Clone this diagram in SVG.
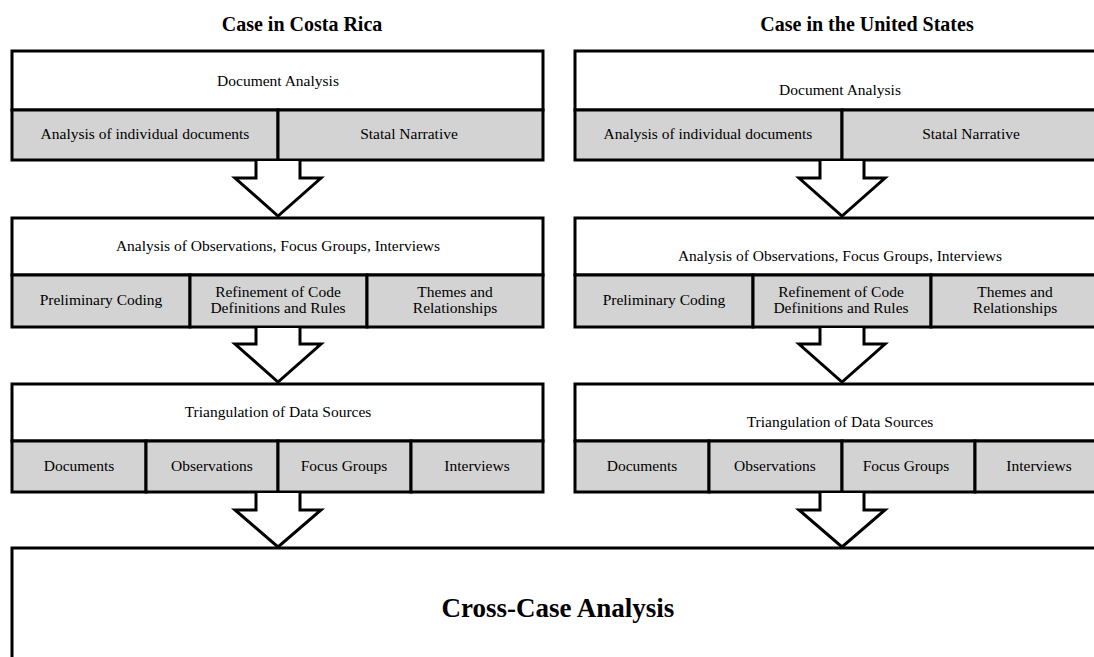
<svg xmlns="http://www.w3.org/2000/svg" width="1094" height="657" viewBox="0 0 1094 657">
<style>
.b{fill:#fff;stroke:#000;stroke-width:3}
.s{fill:#d3d3d3;stroke:#000;stroke-width:3}
.a{fill:#fff;stroke:#000;stroke-width:3;stroke-linejoin:miter}
text{font-family:"Liberation Serif","Times New Roman",serif;font-size:15.5px;fill:#000;text-anchor:middle}
.t{font-size:20px;font-weight:bold}
.c{font-size:27px;font-weight:bold}
</style>
<rect width="1094" height="657" fill="#fff"/>
<text class="t" x="302" y="31">Case in Costa Rica</text>
<text class="t" x="867" y="31">Case in the United States</text>

<g id="cr-doc">
<rect class="b" x="12" y="51" width="531" height="59"/>
<rect class="s" x="12" y="110" width="266" height="50"/>
<rect class="s" x="278" y="110" width="265" height="50"/>
<text x="278" y="86">Document Analysis</text>
<text x="145" y="139">Analysis of individual  documents</text>
<text x="409" y="139">Statal Narrative</text>
</g>
<g id="us-doc">
<rect class="b" x="575" y="51" width="530" height="59"/>
<rect class="s" x="575" y="110" width="267" height="50"/>
<rect class="s" x="842" y="110" width="263" height="50"/>
<text x="840" y="95">Document Analysis</text>
<text x="708" y="139">Analysis of individual  documents</text>
<text x="971" y="139">Statal Narrative</text>
</g>

<g id="cr-obs">
<rect class="b" x="12" y="218" width="531" height="57"/>
<rect class="s" x="12" y="275" width="178" height="52"/>
<rect class="s" x="190" y="275" width="177" height="52"/>
<rect class="s" x="367" y="275" width="176" height="52"/>
<text x="278" y="251">Analysis of Observations, Focus Groups, Interviews</text>
<text x="101" y="305">Preliminary Coding</text>
<text x="278" y="297">Refinement  of Code</text>
<text x="278" y="313">Definitions and Rules</text>
<text x="455" y="297">Themes and</text>
<text x="455" y="313">Relationships</text>
</g>
<g id="us-obs">
<rect class="b" x="575" y="218" width="530" height="57"/>
<rect class="s" x="575" y="275" width="178" height="52"/>
<rect class="s" x="753" y="275" width="178" height="52"/>
<rect class="s" x="931" y="275" width="174" height="52"/>
<text x="840" y="261">Analysis of Observations, Focus Groups, Interviews</text>
<text x="664" y="305">Preliminary Coding</text>
<text x="841" y="297">Refinement  of Code</text>
<text x="841" y="313">Definitions and Rules</text>
<text x="1015" y="297">Themes and</text>
<text x="1015" y="313">Relationships</text>
</g>

<g id="cr-tri">
<rect class="b" x="12" y="384" width="531" height="57"/>
<rect class="s" x="12" y="441" width="134" height="51"/>
<rect class="s" x="146" y="441" width="132" height="51"/>
<rect class="s" x="278" y="441" width="133" height="51"/>
<rect class="s" x="411" y="441" width="132" height="51"/>
<text x="278" y="417">Triangulation of Data Sources</text>
<text x="79" y="471">Documents</text>
<text x="212" y="471">Observations</text>
<text x="344" y="471">Focus Groups</text>
<text x="477" y="471">Interviews</text>
</g>
<g id="us-tri">
<rect class="b" x="575" y="384" width="530" height="57"/>
<rect class="s" x="575" y="441" width="134" height="51"/>
<rect class="s" x="709" y="441" width="133" height="51"/>
<rect class="s" x="842" y="441" width="133" height="51"/>
<rect class="s" x="975" y="441" width="130" height="51"/>
<text x="840" y="427">Triangulation of Data Sources</text>
<text x="642" y="471">Documents</text>
<text x="775" y="471">Observations</text>
<text x="906" y="471">Focus Groups</text>
<text x="1039" y="471">Interviews</text>
</g>

<g id="cross">
<rect class="b" x="12" y="548" width="1100" height="120"/>
<text class="c" x="558" y="617">Cross-Case Analysis</text>
</g>

<g id="connectors">
<path class="a" d="M256 161 V178 H235 L278 216 L321 178 H300 V161"/>
<path class="a" d="M820 161 V178 H799 L842 216 L885 178 H864 V161"/>
<path class="a" d="M256 328 V344 H235 L278 382 L321 344 H300 V328"/>
<path class="a" d="M820 328 V344 H799 L842 382 L885 344 H864 V328"/>
<path class="a" d="M256 493 V510 H235 L278 547 L321 510 H300 V493"/>
<path class="a" d="M820 493 V510 H799 L842 547 L885 510 H864 V493"/>
</g>
</svg>
